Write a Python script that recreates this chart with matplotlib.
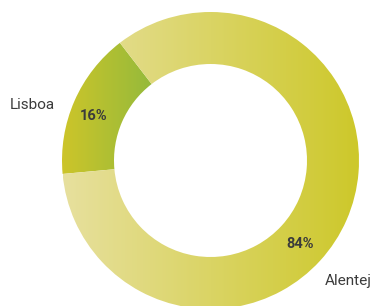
import numpy as np
import matplotlib
matplotlib.use("Agg")
import matplotlib.pyplot as plt
from matplotlib.colors import LinearSegmentedColormap

# data
regions = ["Lisboa", "Alentejo"]
shares = [16, 84]
pct_labels = ["16%", "84%"]

# gradient colours (left -> right) for each slice
grad_colors = [("#cdc52a", "#95ba3b"), ("#e7e09e", "#cdc82a")]

W, H = 370, 306
fig = plt.figure(figsize=(W / 100, H / 100), dpi=100)
ax = fig.add_axes([0, 0, 1, 1])

cx, cy, R, ring = 210.5, 145.5, 148.5, 52
wedges, _ = ax.pie(shares, radius=R, center=(cx, cy), startangle=127.6,
                   counterclock=True, wedgeprops=dict(width=ring, linewidth=0))

grad = np.linspace(0, 1, 256).reshape(1, -1)
for w, (c0, c1) in zip(wedges, grad_colors):
    w.set_facecolor("none")
    bb = w.get_path().get_extents()
    cmap = LinearSegmentedColormap.from_list("g", [c0, c1])
    im = ax.imshow(grad, cmap=cmap, extent=[bb.x0, bb.x1, bb.y0, bb.y1],
                   aspect="auto", origin="lower", zorder=1)
    im.set_clip_path(w)

txt = "#3b3b3b"
font = "Roboto"
ax.text(55, 201, regions[0], ha="right", va="center", fontsize=11,
        color=txt, family=font)
ax.text(325, 25, regions[1], ha="left", va="center", fontsize=11,
        color=txt, family=font)
ax.text(94, 190, pct_labels[0], ha="center", va="center", fontsize=10.5,
        fontweight="bold", color=txt, family=font, zorder=3)
ax.text(300, 62, pct_labels[1], ha="center", va="center", fontsize=10.5,
        fontweight="bold", color=txt, family=font, zorder=3)

ax.set_xlim(0, W)
ax.set_ylim(0, H)
ax.set_aspect("equal")
ax.axis("off")

fig.savefig("out.png", dpi=100, facecolor="white")
